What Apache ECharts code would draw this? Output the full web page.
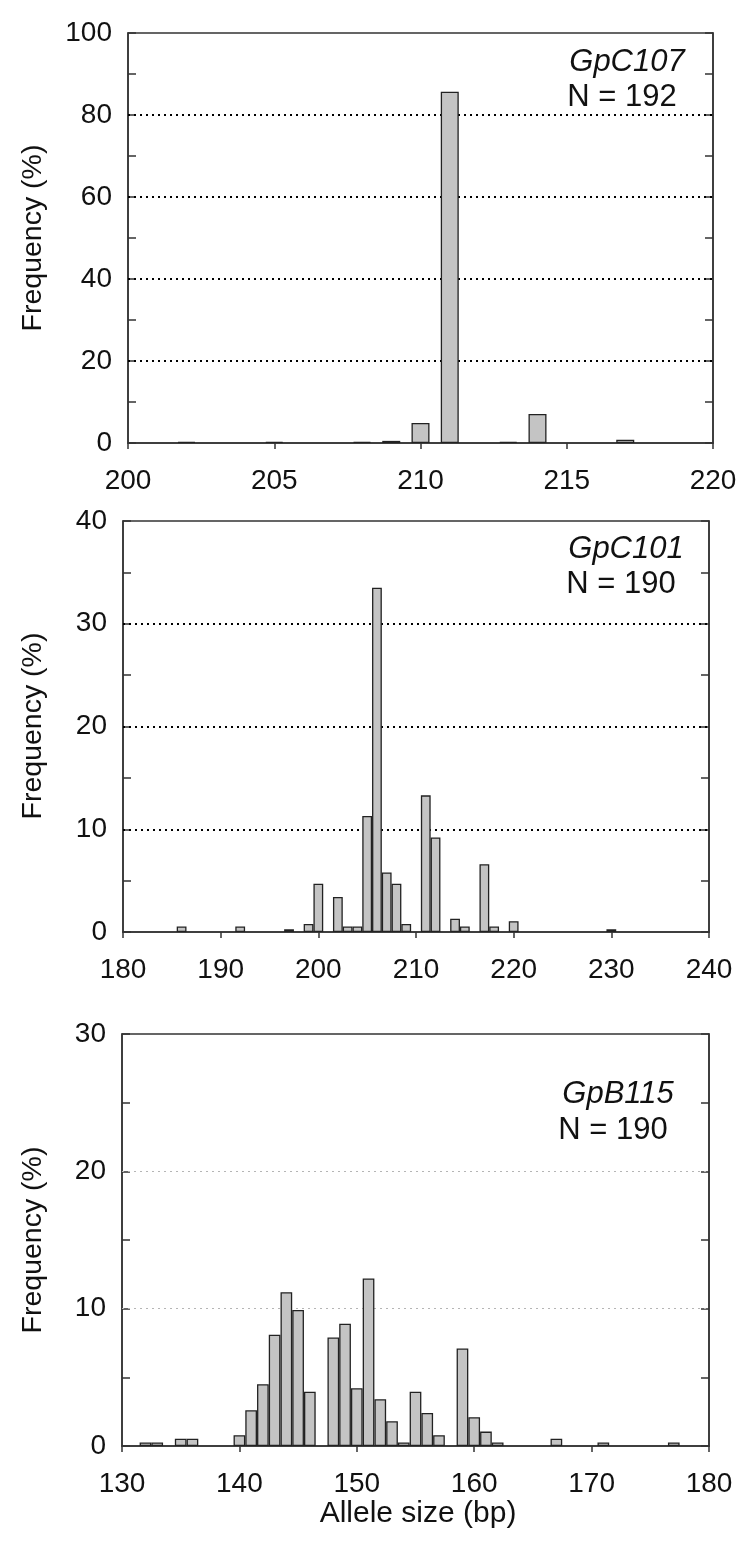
<!DOCTYPE html>
<html>
<head>
<meta charset="utf-8">
<script src="https://cdn.jsdelivr.net/npm/echarts@6/dist/echarts.min.js"></script>
<style>
html,body{margin:0;padding:0;background:#fff;}
#c{width:750px;height:1564px;}
</style>
</head>
<body>
<div id="c"></div>
<script>
// ---- Data ----
// Panel 1: GpC107, N = 192
const p1Sizes = [202, 205, 208, 209, 210, 211, 213, 214, 217];
const p1Freq  = [0.26, 0.26, 0.26, 0.52, 4.9, 85.7, 0.26, 7.1, 0.78];
// Panel 2: GpC101, N = 190
const p2Sizes = [186, 192, 197, 199, 200, 202, 203, 204, 205, 206, 207, 208, 209, 211, 212, 214, 215, 217, 218, 220, 230];
const p2Freq  = [0.53, 0.53, 0.26, 0.79, 4.7, 3.4, 0.53, 0.53, 11.3, 33.5, 5.8, 4.7, 0.79, 13.3, 9.2, 1.3, 0.53, 6.6, 0.53, 1.05, 0.26];
// Panel 3: GpB115, N = 190
const p3Sizes = [132, 133, 135, 136, 140, 141, 142, 143, 144, 145, 146, 148, 149, 150, 151, 152, 153, 154, 155, 156, 157, 159, 160, 161, 162, 167, 171, 177];
const p3Freq  = [0.26, 0.26, 0.53, 0.53, 0.79, 2.6, 4.5, 8.1, 11.2, 9.9, 3.95, 7.9, 8.9, 4.2, 12.2, 3.4, 1.8, 0.26, 3.95, 2.4, 0.79, 7.1, 2.1, 1.05, 0.26, 0.53, 0.26, 0.26];

const locusNames = ['GpC107', 'GpC101', 'GpB115'];
const sampleLabels = ['N = 192', 'N = 190', 'N = 190'];
const yTitle = 'Frequency (%)';
const xTitle = 'Allele size (bp)';

// ---- Styling / layout ----
const FONT = "'Liberation Sans', Arial, Helvetica, sans-serif";
const FS_TICK = 28;
const FS_NOTE = 31;
const FS_YT = 28.5;
const FS_XT = 30;
const AX = '#333';

const panels = [
  { sizes: p1Sizes, freq: p1Freq, grid: {left:128, top:33, width:585, height:410},
    xMin:200, xMax:220, xInt:5, yMax:100, yInt:20, gridVals:[20,40,60,80], barW:18,
    gl:{color:'#000', width:2, type:[2,4]}, name:{x:627,y:62}, n:{x:622,y:97}, title:{y:238} },
  { sizes: p2Sizes, freq: p2Freq, grid: {left:123, top:521, width:586, height:411},
    xMin:180, xMax:240, xInt:10, yMax:40, yInt:10, gridVals:[10,20,30], barW:9.8,
    gl:{color:'#000', width:2, type:[2,4]}, name:{x:626,y:549}, n:{x:621,y:584}, title:{y:726} },
  { sizes: p3Sizes, freq: p3Freq, grid: {left:122, top:1034, width:587, height:412},
    xMin:130, xMax:180, xInt:10, yMax:30, yInt:10, gridVals:[10,20], barW:11.7,
    gl:{color:'#b5b5b5', width:1, type:[2,4]}, name:{x:618,y:1094}, n:{x:613,y:1130}, title:{y:1240} }
];

const grids = [], xAxes = [], yAxes = [], series = [], graphics = [];

panels.forEach((p, i) => {
  grids.push(Object.assign({show:true, borderColor:AX, borderWidth:1.5, backgroundColor:'transparent'}, p.grid));
  xAxes.push({
    type:'value', gridIndex:i, min:p.xMin, max:p.xMax, interval:p.xInt,
    axisLine:{show:true, onZero:false, lineStyle:{color:AX, width:1.5}},
    axisTick:{show:true, inside:false, length:6, lineStyle:{color:AX, width:1.5}},
    axisLabel:{color:'#111', fontFamily:FONT, fontSize:FS_TICK, margin:24},
    splitLine:{show:false}
  });
  const yBase = {
    type:'value', gridIndex:i, min:0, max:p.yMax, interval:p.yInt,
    axisLine:{show:true, lineStyle:{color:AX, width:1.5}},
    axisTick:{show:true, inside:true, length:8, lineStyle:{color:AX, width:1.5}},
    minorTick:{show:true, splitNumber:2, length:8, lineStyle:{color:AX, width:1.5}},
    splitLine:{show:false}
  };
  yAxes.push(Object.assign({}, yBase, {position:'left',
    axisLabel:{color:'#111', fontFamily:FONT, fontSize:FS_TICK, margin:16}}));
  yAxes.push(Object.assign({}, yBase, {position:'right', axisLabel:{show:false}}));
  series.push({
    type:'bar', xAxisIndex:i, yAxisIndex:2*i,
    data: p.sizes.map((s, k) => [s, p.freq[k]]),
    barWidth:p.barW,
    itemStyle:{color:'#c4c4c4', borderColor:'#222', borderWidth:1.3},
    z:3,
    markLine:{
      silent:true, symbol:'none', z:1, animation:false,
      label:{show:false},
      lineStyle:{color:p.gl.color, width:p.gl.width, type:p.gl.type},
      emphasis:{disabled:true},
      data: p.gridVals.map(v => ({yAxis:v}))
    }
  });
  graphics.push({type:'text', x:p.name.x, y:p.name.y, style:{text:locusNames[i], font:'italic ' + FS_NOTE + 'px ' + FONT, fill:'#111', textAlign:'center', align:'center', textVerticalAlign:'middle', verticalAlign:'middle'}});
  graphics.push({type:'text', x:p.n.x, y:p.n.y, style:{text:sampleLabels[i], font:FS_NOTE + 'px ' + FONT, fill:'#111', textAlign:'center', align:'center', textVerticalAlign:'middle', verticalAlign:'middle'}});
  graphics.push({type:'text', x:33, y:p.title.y, rotation:Math.PI/2, style:{text:yTitle, font:FS_YT + 'px ' + FONT, fill:'#111', textAlign:'center', align:'center', textVerticalAlign:'middle', verticalAlign:'middle'}});
});
graphics.push({type:'text', x:418, y:1514, style:{text:xTitle, font:FS_XT + 'px ' + FONT, fill:'#111', textAlign:'center', align:'center', textVerticalAlign:'middle', verticalAlign:'middle'}});

const chart = echarts.init(document.getElementById('c'), null, {renderer:'canvas'});
chart.setOption({
  animation:false,
  backgroundColor:'#fff',
  grid:grids, xAxis:xAxes, yAxis:yAxes, series:series, graphic:graphics
});
</script>
</body>
</html>
